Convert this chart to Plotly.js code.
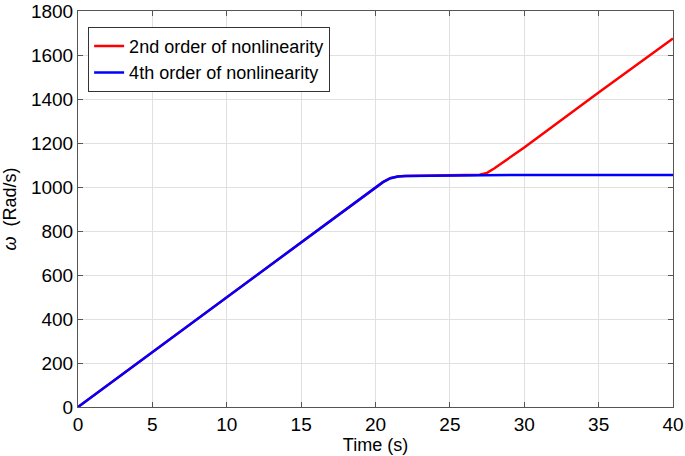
<!DOCTYPE html>
<html>
<head>
<meta charset="utf-8">
<script src="https://cdn.plot.ly/plotly-3.0.1.min.js"></script>
<style>
  html, body { margin: 0; padding: 0; background: #fff; }
  #myPlot { width: 685px; height: 456px; }
</style>
</head>
<body>
<div id="myPlot"></div>
<script>
// values
const timeValues = [0, 5, 10, 15, 20, 20.5, 21, 21.5, 22, 25, 27, 27.5, 28, 30, 35, 40];
const order2Values = [0, 250, 500, 750, 1000, 1022, 1040, 1048, 1050, 1053, 1056, 1064, 1085, 1180, 1430, 1675];
const order4Values = [0, 250, 500, 750, 1000, 1022, 1040, 1048, 1050, 1053, 1054, 1054, 1054, 1055, 1055, 1055];
const seriesNames = ["2nd order of nonlinearity", "4th order of nonlinearity"];
const xTicks = [0, 5, 10, 15, 20, 25, 30, 35, 40];
const yTicks = [0, 200, 400, 600, 800, 1000, 1200, 1400, 1600, 1800];

const fam = "Liberation Sans, Arial, sans-serif";
const tickFont = { family: fam, size: 19, color: "#000" };
const titleFont = { family: fam, size: 18, color: "#000" };
const legendFont = { family: fam, size: 18, color: "#000" };

const data = [
    { x: timeValues, y: order2Values, name: seriesNames[0], mode: "lines",
      line: { color: "#ff0000", width: 2.5 } },
    { x: timeValues, y: order4Values, name: seriesNames[1], mode: "lines",
      line: { color: "#0000ff", width: 2.5 } }
];

const axisStyle = {
    showline: true, linecolor: "#555", linewidth: 1, mirror: "ticks",
    ticks: "inside", ticklen: 5, tickcolor: "#555",
    showgrid: true, gridcolor: "#e0e0e0", gridwidth: 1,
    zeroline: false, tickfont: tickFont, ticklabeloverflow: "allow"
};

const layout = {
    width: 685, height: 456,
    margin: { l: 78, r: 12, t: 11, b: 49 },
    paper_bgcolor: "#fff", plot_bgcolor: "#fff",
    font: tickFont,
    showlegend: true,
    legend: {
        x: 0.017, y: 0.96, xanchor: "left", yanchor: "top",
        bgcolor: "#fff", bordercolor: "#333", borderwidth: 1,
        font: legendFont, tracegroupgap: 0, itemwidth: 30
    },
    xaxis: Object.assign({}, axisStyle, {
        range: [0, 40], tickvals: xTicks,
        title: { text: "Time (s)", font: titleFont, standoff: 0 }
    }),
    yaxis: Object.assign({}, axisStyle, {
        range: [0, 1800], tickvals: yTicks,
        title: { text: "<i>ω</i>  (Rad/s)", font: titleFont, standoff: 10 }
    })
};

Plotly.newPlot("myPlot", data, layout, { displayModeBar: false, staticPlot: true });
</script>
</body>
</html>
